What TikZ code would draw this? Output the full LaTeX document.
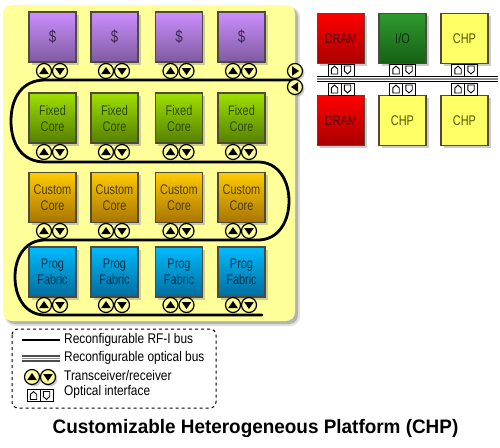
\documentclass[tikz,border=0pt]{standalone}
\usepackage{fontspec}
\setmainfont{Liberation Sans}
\newfontfamily\chipfont[FakeStretch=0.78]{Liberation Sans}
\newfontfamily\legfont[FakeStretch=0.85]{Liberation Sans}
\newfontfamily\titlefont[FakeStretch=0.97]{Liberation Sans}
\usetikzlibrary{calc,shadows}

% box fills
\tikzset{
  chip/.style={draw=black!80!yellow, line width=1.4pt, minimum width=47pt, minimum height=50pt,
    align=center, inner sep=0pt, font=\chipfont\fontsize{14}{16}\selectfont, drop shadow={shadow xshift=2.5pt, shadow yshift=-2.5pt, opacity=.4}},
  cachebox/.style={chip, top color=purpleT, bottom color=purpleB, text=purpleX},
  fixedbox/.style={chip, top color=greenT, bottom color=greenB, text=greenX},
  custombox/.style={chip, top color=orangeT, bottom color=orangeB, text=orangeX},
  progbox/.style={chip, top color=blueT, bottom color=blueB, text=blueX},
  drambox/.style={chip, top color=redT, bottom color=redB, text=redX},
  iobox/.style={chip, top color=ioT, bottom color=ioB, text=ioX},
  chpbox/.style={chip, fill=chpF, text=chpX},
  trx/.style={circle, draw=black, line width=1.2pt, fill=panelF, minimum size=15pt, inner sep=0pt},
  trxs/.style={trx, drop shadow={shadow xshift=2pt,shadow yshift=-2pt,opacity=.4}},
  tip/.style={fill=black, draw=none},
  rfbus/.style={line width=2.8pt, line cap=round},
  opt/.style={draw=black, line width=.9pt, fill=white, minimum width=13pt, minimum height=12pt, inner sep=0pt},
  legtext/.style={anchor=west, inner sep=0pt, font=\legfont\fontsize{14}{14}\selectfont},
}
\definecolor{panelF}{HTML}{FFFF99}
\definecolor{purpleT}{HTML}{CC8FFF}\definecolor{purpleB}{HTML}{7E5AA0}\definecolor{purpleX}{HTML}{3A2A50}
\definecolor{greenT}{HTML}{9FE000}\definecolor{greenB}{HTML}{557F00}\definecolor{greenX}{HTML}{2F4A00}
\definecolor{orangeT}{HTML}{FFCC00}\definecolor{orangeB}{HTML}{A87400}\definecolor{orangeX}{HTML}{503C00}
\definecolor{blueT}{HTML}{00BBFF}\definecolor{blueB}{HTML}{006C9C}\definecolor{blueX}{HTML}{00304A}
\definecolor{redT}{HTML}{FF0000}\definecolor{redB}{HTML}{A80000}\definecolor{redX}{HTML}{500000}
\definecolor{ioT}{HTML}{2F9A2F}\definecolor{ioB}{HTML}{156015}\definecolor{ioX}{HTML}{0A300A}
\definecolor{chpF}{HTML}{FFFF66}\definecolor{chpX}{HTML}{555500}

% triangles inside a transceiver
\newcommand{\upa}[1]{\fill[tip] ($(#1)+(-4.8,3)$) -- ($(#1)+(4.8,3)$) -- ($(#1)+(0,-4)$) -- cycle;}
\newcommand{\dna}[1]{\fill[tip] ($(#1)+(-4.8,-3)$) -- ($(#1)+(4.8,-3)$) -- ($(#1)+(0,4)$) -- cycle;}

% one optical interface: #1 name, #2 centre
\newcommand{\optpair}[2]{
  \node[opt] (#1a) at ($(#2)+(-6.5,0)$) {};
  \node[opt] (#1b) at ($(#2)+(6.5,0)$) {};
  \draw[line width=.9pt] ($(#1a)+(-3.2,4)$) -- ($(#1a)+(3.2,4)$) -- ($(#1a)+(3.2,-1)$) -- ($(#1a)+(0,-4)$) -- ($(#1a)+(-3.2,-1)$) -- cycle;
  \draw[line width=.9pt] ($(#1b)+(-3.2,-4)$) -- ($(#1b)+(3.2,-4)$) -- ($(#1b)+(3.2,1)$) -- ($(#1b)+(0,4)$) -- ($(#1b)+(-3.2,1)$) -- cycle;
}

\begin{document}
\begin{tikzpicture}[x=1pt,y=-1pt]
\useasboundingbox (0,0) rectangle (500,447);

% --- panel ---
\fill[black,opacity=.12,rounded corners=10pt] (5,7) rectangle (300,326);
\fill[black,opacity=.2,rounded corners=9pt] (6,8) rectangle (298,324);
\fill[panelF,rounded corners=9pt] (3,5) rectangle (295,321);

% --- RF-I bus ---
\coordinate (busA) at (292,80);
\coordinate (busB) at (262,315);
\draw[rfbus] (busA) -- (45,80) .. controls (22,80) and (11,98) .. (11,121)
  .. controls (11,144) and (22,162) .. (45,162) -- (258,162)
  .. controls (278,162) and (289,180) .. (289,201)
  .. controls (289,222) and (278,240) .. (258,240) -- (45,240)
  .. controls (26,240) and (15,256) .. (15,277)
  .. controls (15,298) and (26,315) .. (45,315) -- (busB);

% --- chips ---
\foreach \cx [count=\i] in {52.5,114.5,179,241.5} {
  \node[cachebox,font=\chipfont\fontsize{17}{17}\selectfont] (cache\i) at (\cx,37) {\$};
  \node[fixedbox] (fixed\i) at (\cx,118) {Fixed\\Core};
  \node[custombox] (custom\i) at (\cx,197.5) {Custom\\Core};
  \node[progbox] (prog\i) at (\cx,272) {Prog\\Fabric};
  \foreach \rowy/\rowname in {71/c,152/f,231/u,305/p} {
    \coordinate (\rowname\i) at (\cx-.5,\rowy);
    \node[trx] (\rowname\i a) at ($(\rowname\i)+(-8,0)$) {};
    \node[trx] (\rowname\i b) at ($(\rowname\i)+(8,0)$) {};
    \upa{\rowname\i a}
    \dna{\rowname\i b}
  }
}

% --- off-chip blocks ---
\draw[line width=1.2pt] (317,76.5) -- (498,76.5);
\draw[line width=1.2pt,black!45] (317,79) -- (498,79);
\draw[line width=1.2pt] (317,81.5) -- (498,81.5);

\node[drambox] (dramA) at (341,38.5) {DRAM};
\node[iobox] (io) at (402.5,38.5) {I/O};
\node[chpbox] (chpA) at (464.5,38.5) {CHP};
\node[drambox] (dramB) at (341,120.5) {DRAM};
\node[chpbox] (chpB) at (402.5,120.5) {CHP};
\node[chpbox] (chpC) at (464.5,120.5) {CHP};

\coordinate (oa) at (341,70); \coordinate (ob) at (402.5,70); \coordinate (oc) at (464.5,70);
\coordinate (od) at (341,89); \coordinate (oe) at (402.5,89); \coordinate (of) at (464.5,89);
\foreach \o in {oa,ob,oc,od,oe,of} {\optpair{\o p}{\o}}

% --- bus end transceivers ---
\node[trxs] (endA) at (295,71) {};
\node[trxs] (endB) at (295,87) {};
\fill[tip] ($(endA)+(-3,-4.8)$) -- ($(endA)+(-3,4.8)$) -- ($(endA)+(4,0)$) -- cycle;
\fill[tip] ($(endB)+(3,-4.8)$) -- ($(endB)+(3,4.8)$) -- ($(endB)+(-4,0)$) -- cycle;

% --- legend ---
\draw[dashed,line width=1pt,rounded corners=6pt] (12,329) rectangle (216,408);
\coordinate (legA) at (22,340); \coordinate (legB) at (60,340);
\coordinate (legC) at (22,358.5); \coordinate (legD) at (60,358.5);
\draw[line width=2.8pt] (legA) -- (legB);
\draw[line width=1.2pt,black!70] (22,356) -- (60,356);
\draw[line width=1.2pt,black!45] (legC) -- (legD);
\draw[line width=1.2pt,black!70] (22,361) -- (60,361);
\node[legtext] (legrf) at (64,340) {Reconfigurable RF-I bus};
\node[legtext] (legopt) at (64,357.5) {Reconfigurable optical bus};
\node[legtext] (legtrx) at (64,375) {Transceiver/receiver};
\node[legtext] (legif) at (64,392) {Optical interface};
\node[trxs] (legta) at (32,377) {};
\node[trxs] (legtb) at (48,377) {};
\upa{legta}
\dna{legtb}
\coordinate (legp) at (40,395.5);
\optpair{legq}{legp}

% --- title ---
\node[font=\titlefont\bfseries\fontsize{19.5}{20}\selectfont, inner sep=0pt] (title) at (255.5,428) {Customizable Heterogeneous Platform (CHP)};
\end{tikzpicture}
\end{document}
